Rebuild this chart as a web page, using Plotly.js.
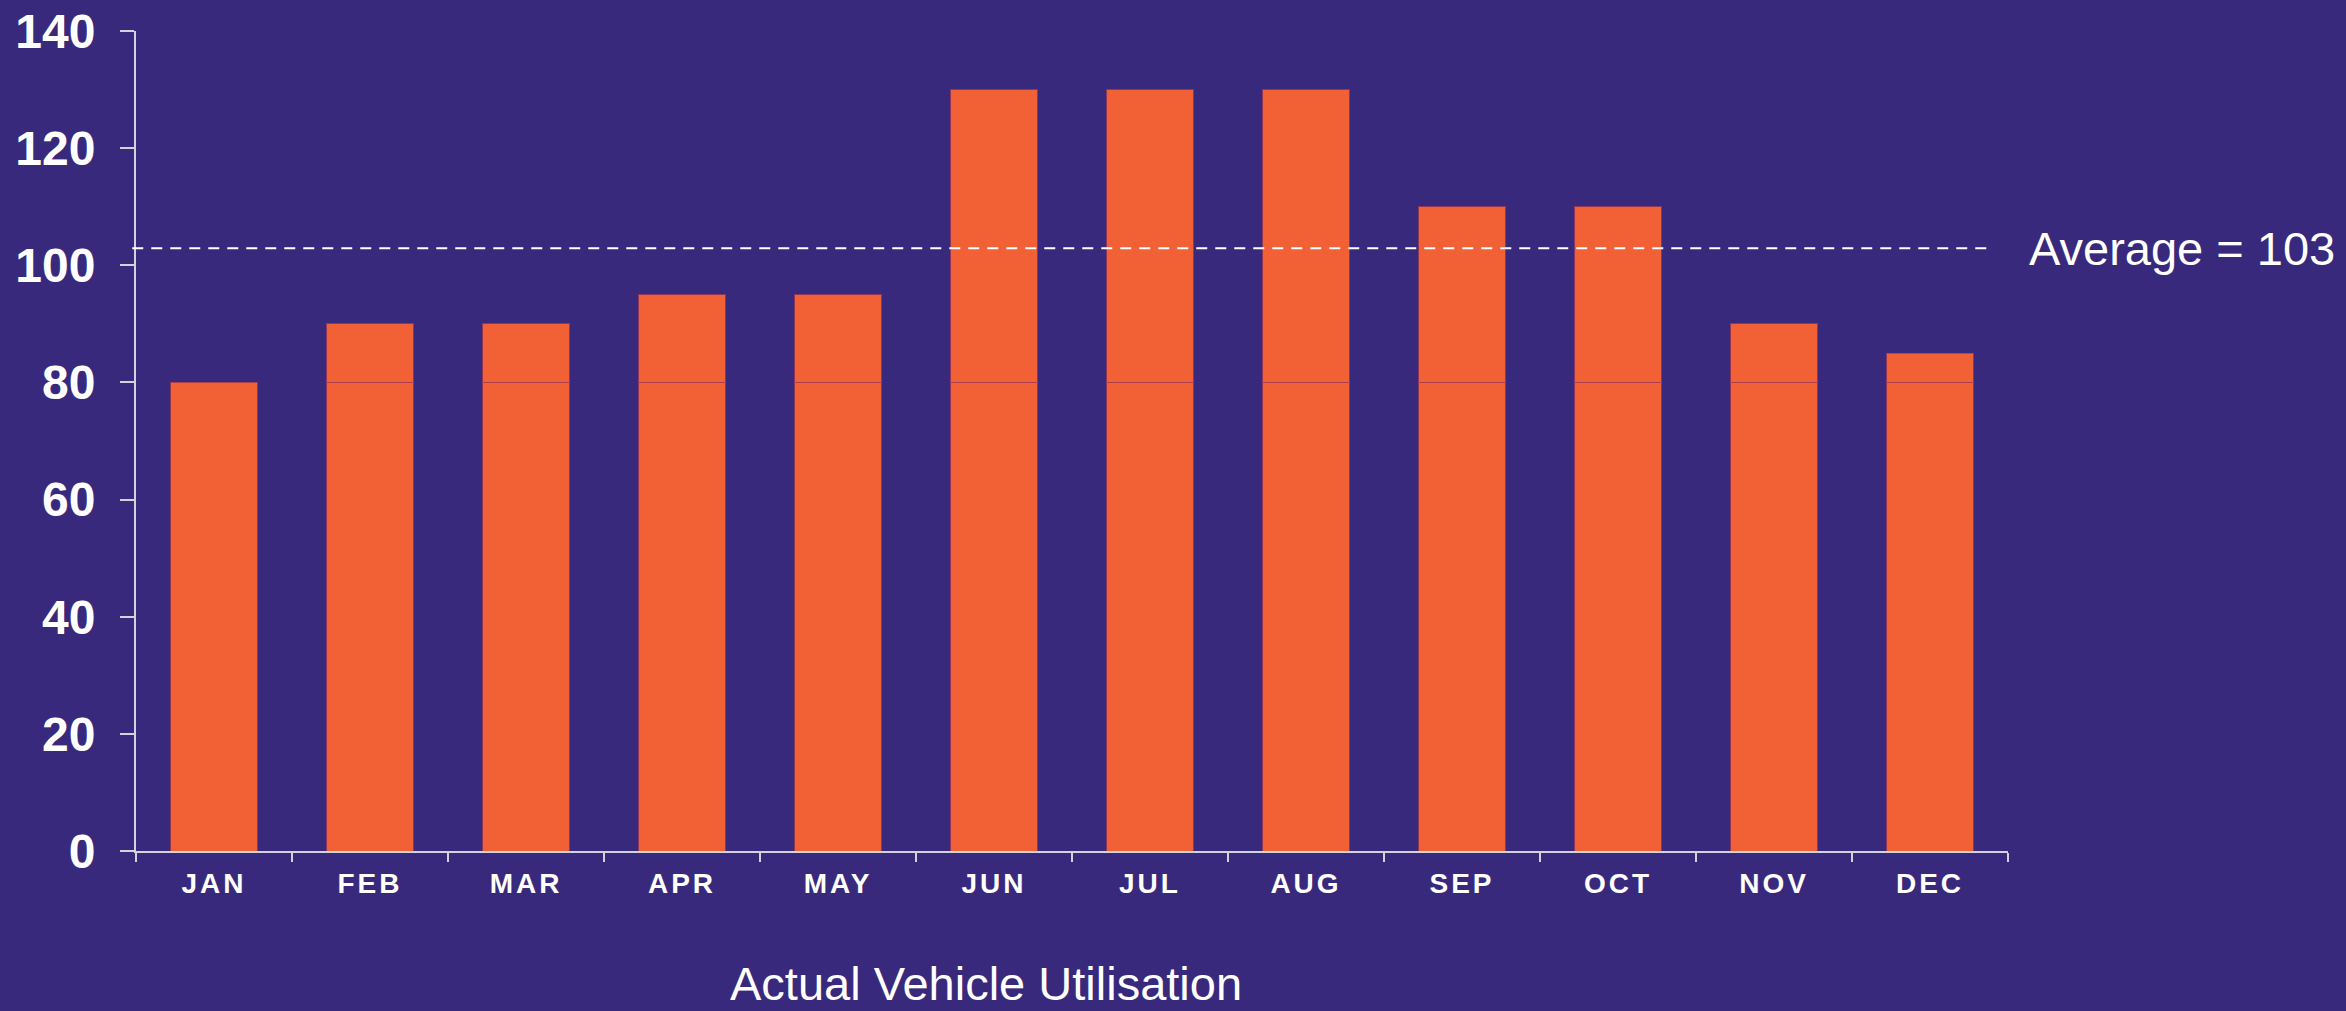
<!DOCTYPE html>
<html>
<head>
<meta charset="utf-8">
<script src="https://cdn.plot.ly/plotly-3.0.1.min.js"></script>
<style>
  html, body { margin: 0; padding: 0; background: #39297c; }
  #chart { width: 2346px; height: 1011px; }
  .xtick text { letter-spacing: 3px; }
</style>
</head>
<body>
<div id="chart"></div>
<script>
// Data
const months = ["JAN", "FEB", "MAR", "APR", "MAY", "JUN", "JUL", "AUG", "SEP", "OCT", "NOV", "DEC"];
const utilisation = [80, 90, 90, 95, 95, 130, 130, 130, 110, 110, 90, 85];
const baseLevel = 80;
const yTicks = [0, 20, 40, 60, 80, 100, 120, 140];
const chartTitle = "Actual Vehicle Utilisation";

const lower = utilisation.map(v => Math.min(v, baseLevel));
const upper = utilisation.map((v, i) => v - lower[i]);
const average = utilisation.reduce((a, b) => a + b, 0) / utilisation.length;

const barColor = "#f26036";
const edge = { color: "rgba(170,60,80,0.75)", width: 1 };

const traces = [
  { type: "bar", x: months, y: lower, marker: { color: barColor, line: edge }, hoverinfo: "x+y" },
  { type: "bar", x: months, y: upper, marker: { color: barColor, line: edge }, hoverinfo: "x+y" }
];

const layout = {
  width: 2346, height: 1011,
  paper_bgcolor: "#39297c", plot_bgcolor: "#39297c",
  margin: { l: 136, r: 338, t: 31, b: 160, pad: 0 },
  barmode: "stack",
  bargap: 0.444,
  showlegend: false,
  font: { family: "Liberation Sans, Arial, sans-serif", color: "#ffffff" },
  xaxis: {
    type: "category",
    showline: true, linecolor: "#d4d2dc", linewidth: 2,
    ticks: "outside", tickson: "boundaries", ticklen: 9, tickwidth: 2, tickcolor: "#d4d2dc",
    tickfont: { size: 28, weight: "bold", color: "#ffffff" },
    showgrid: false, zeroline: false,
    ticklabelstandoff: 6
  },
  yaxis: {
    range: [0, 140],
    tickvals: yTicks,
    showline: true, linecolor: "#d4d2dc", linewidth: 2,
    ticks: "outside", ticklen: 14, tickwidth: 2, tickcolor: "#d4d2dc",
    tickfont: { size: 48, weight: "bold", color: "#ffffff" },
    showgrid: false, zeroline: false,
    ticklabelstandoff: 15
  },
  shapes: [{
    type: "line", xref: "paper", yref: "y",
    x0: -0.002, x1: 0.989, y0: average, y1: average,
    line: { color: "#ffffff", width: 2, dash: "11px,8px" }
  }],
  annotations: [
    {
      xref: "paper", yref: "y", x: 1.010, y: average,
      xanchor: "left", yanchor: "middle", showarrow: false,
      text: "Average = " + Math.round(average),
      font: { size: 47, color: "#ffffff" }
    },
    {
      xref: "paper", yref: "paper", x: 0.454, y: -0.162,
      xanchor: "center", yanchor: "middle", showarrow: false,
      text: chartTitle,
      font: { size: 47, color: "#ffffff" }
    }
  ]
};

Plotly.newPlot("chart", traces, layout, { displayModeBar: false, staticPlot: true });
</script>
</body>
</html>
